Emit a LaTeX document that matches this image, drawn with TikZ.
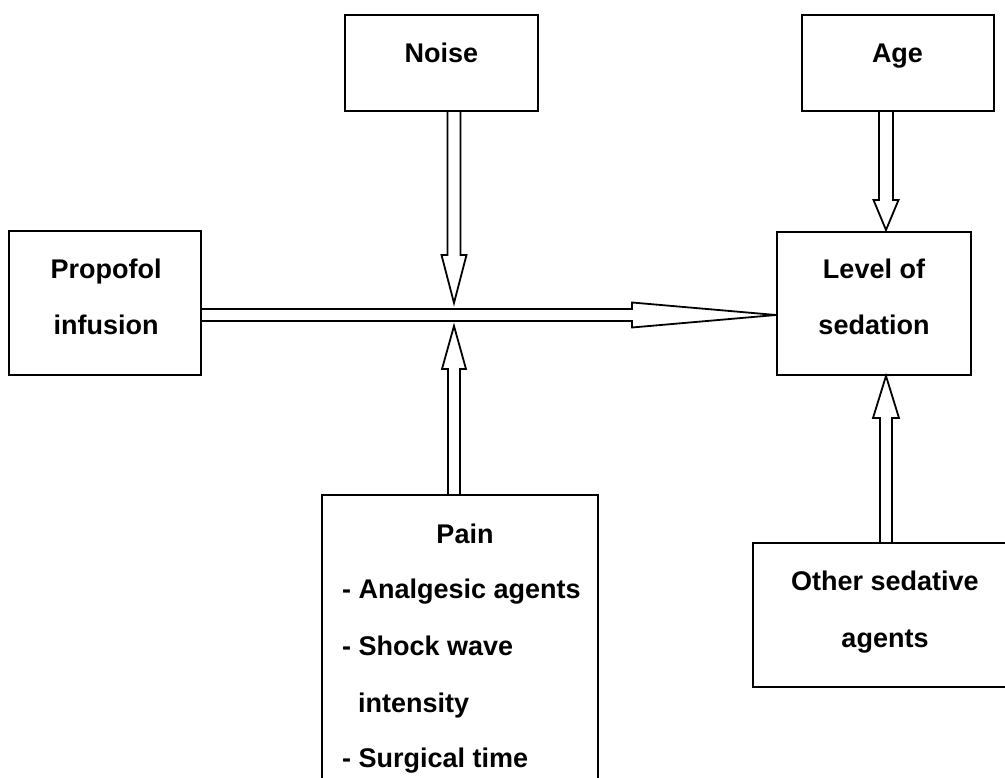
\documentclass[tikz,border=0pt]{standalone}
\usepackage{fontspec}
\setmainfont{Liberation Sans}
\usetikzlibrary{calc}
\tikzset{
  box/.style={draw, line width=2pt, inner sep=0pt, rectangle},
  lbl/.style={font=\fontsize{27}{32}\selectfont\bfseries, inner sep=0pt, anchor=base},
  lbll/.style={lbl, anchor=base west},
  arrowline/.style={draw, line width=1.8pt, line join=miter},
}
% #1 start, #2 tip, #3 shaft half width, #4 head half width, #5 head length
\newcommand\hollowarrow[5]{%
  \draw[arrowline]
    ($(#1)!#3pt!90:(#2)$) --
    ($(#2)!#5pt!(#1)!#3pt!90:(#2)$) --
    ($(#2)!#5pt!(#1)!#4pt!90:(#2)$) --
    (#2) --
    ($(#2)!#5pt!(#1)!#4pt!-90:(#2)$) --
    ($(#2)!#5pt!(#1)!#3pt!-90:(#2)$) --
    ($(#1)!#3pt!-90:(#2)$);
}
\begin{document}
\begin{tikzpicture}[x=1pt,y=-1pt]
\useasboundingbox (0,0) rectangle (1005,778);
\clip (0,0) rectangle (1005,778);
\fill[white] (0,0) rectangle (1005,778);

% boxes
\node[box, minimum width=193pt, minimum height=96pt] (noise) at (441.5,63) {};
\node[box, minimum width=192pt, minimum height=96pt] (age) at (898,63) {};
\node[box, minimum width=192pt, minimum height=144pt] (propofol) at (105,303) {};
\node[box, minimum width=194pt, minimum height=143pt] (level) at (874,303.5) {};
\node[box, minimum width=276pt, minimum height=305pt] (pain) at (460,647.5) {};
\node[box, minimum width=264pt, minimum height=144pt] (other) at (885,615) {};

% labels
\node[lbl] (noiseT) at (441.5,63) {Noise};
\node[lbl] (ageT) at (897.5,63) {Age};
\node[lbl] (propT1) at (106,279) {Propofol};
\node[lbl] (propT2) at (106,335) {infusion};
\node[lbl] (levelT1) at (874,279) {Level of};
\node[lbl] (levelT2) at (874,335) {sedation};
\node[lbl] (painT) at (465,543) {Pain};
\node[lbll] (painA) at (342,598) {- Analgesic agents};
\node[lbll] (painB) at (342,655) {- Shock wave};
\node[lbll] (painC) at (358,712) {intensity};
\node[lbll] (painD) at (342,767) {- Surgical time};
\node[lbl] (otherT1) at (885,590) {Other sedative};
\node[lbl] (otherT2) at (885,647) {agents};

% reference points
\coordinate (hub) at (454,315);
\coordinate (rx) at (886,0);
\coordinate (noiseS) at (hub |- noise.south);
\coordinate (noiseE) at ($(hub)+(0,-12)$);
\coordinate (painS) at (hub |- pain.north);
\coordinate (painE) at ($(hub)+(0,11)$);
\coordinate (propS) at (propofol.east |- hub);
\coordinate (propE) at (level.west |- hub);
\coordinate (ageS) at (rx |- age.south);
\coordinate (ageE) at ($(rx |- level.north)+(0,-1)$);
\coordinate (otherS) at (rx |- other.north);
\coordinate (otherE) at (rx |- level.south);

% arrows
\hollowarrow{noiseS}{noiseE}{6.5}{12.5}{48}
\hollowarrow{painS}{painE}{6}{12}{43}
\hollowarrow{propS}{propE}{6}{12.5}{144}
\hollowarrow{ageS}{ageE}{7}{12.5}{30}
\hollowarrow{otherS}{otherE}{6}{13}{42}
\end{tikzpicture}
\end{document}
